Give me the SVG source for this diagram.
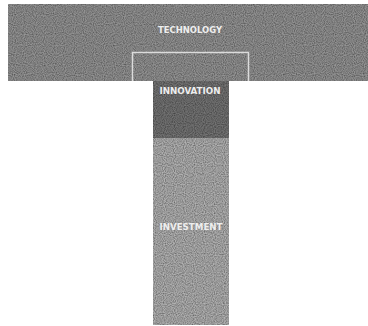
<svg xmlns="http://www.w3.org/2000/svg" width="368" height="326" viewBox="0 0 368 326">
<defs>
<filter id="grain" x="0" y="0" width="100%" height="100%">
<feTurbulence type="fractalNoise" baseFrequency="0.9" numOctaves="1" seed="3" result="n"/>
<feColorMatrix in="n" type="matrix" values="0 0 0 0 0  0 0 0 0 0  0 0 0 0 0  0 0 0 -1.2 0.9" result="dark"/>
<feComposite in="dark" in2="SourceGraphic" operator="in" result="d2"/>
<feMerge><feMergeNode in="SourceGraphic"/><feMergeNode in="d2"/></feMerge>
</filter>
<style>
.lbl{font-family:"DejaVu Sans Condensed","Liberation Sans",sans-serif;font-size:9px;font-weight:bold;fill:#eeeeee;text-anchor:middle;dominant-baseline:central}
</style>
</defs>
<rect width="368" height="326" fill="#ffffff"/>
<g id="technology">
<rect x="8" y="4" width="360" height="77" fill="#959595" filter="url(#grain)"/>
<text class="lbl" x="190" y="30" textLength="64" lengthAdjust="spacingAndGlyphs">TECHNOLOGY</text>
</g>
<g id="investment">
<rect x="153" y="138" width="76" height="187" fill="#b3b3b3" filter="url(#grain)"/>
<text class="lbl" x="191" y="227" textLength="63" lengthAdjust="spacingAndGlyphs">INVESTMENT</text>
</g>
<g id="innovation">
<rect x="153" y="81" width="76" height="57" fill="#767676" filter="url(#grain)"/>
<text class="lbl" x="190" y="91" textLength="61" lengthAdjust="spacingAndGlyphs">INNOVATION</text>
</g>
<g id="connectors">
<polyline points="132.5,81 132.5,52.5 248.5,52.5 248.5,81" fill="none" stroke="#dcdcdc" stroke-width="1.5"/>
</g>
</svg>
